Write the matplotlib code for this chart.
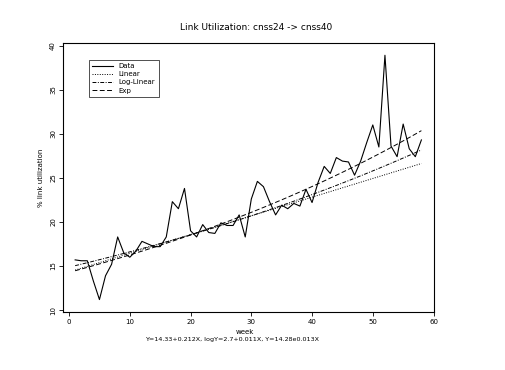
import numpy as np
import matplotlib
matplotlib.use("Agg")
import matplotlib.pyplot as plt

weeks = list(range(1, 59))
utilization = [15.7, 15.6, 15.6, 13.3, 11.2, 13.9, 15.2, 18.3, 16.5, 16.0,
               16.7, 17.8, 17.5, 17.2, 17.2, 18.3, 22.3, 21.5, 23.8, 19.0,
               18.3, 19.7, 18.8, 18.7, 19.9, 19.6, 19.6, 20.8, 18.3, 22.6,
               24.6, 24.0, 22.3, 20.8, 21.9, 21.5, 22.1, 21.8, 23.7, 22.2,
               24.5, 26.3, 25.5, 27.3, 26.9, 26.8, 25.3, 26.9, 29.0, 31.0,
               28.5, 38.9, 28.6, 27.4, 31.1, 28.3, 27.4, 29.3]

# fitted model coefficients (from the subtitle)
lin_a, lin_b = 14.33, 0.212
log_a, log_b = 2.7, 0.011
exp_a, exp_b = 14.28, 0.013

title = "Link Utilization: cnss24 -> cnss40"
subtitle = "Y=14.33+0.212X, logY=2.7+0.011X, Y=14.28e0.013X"
xticks = [0, 10, 20, 30, 40, 50, 60]
yticks = [10, 15, 20, 25, 30, 35, 40]

fig = plt.figure(figsize=(5.06, 3.70), dpi=100)
ax = fig.add_axes([0.1245, 0.157, 0.7335, 0.727])

x = np.array(weeks, dtype=float)
ax.plot(x, utilization, color="black", lw=0.8, label="Data")
ax.plot(x, lin_a + lin_b * x, color="black", lw=0.7, ls=(0, (1, 1.5)), label="Linear")
ax.plot(x, np.exp(log_a + log_b * x), color="black", lw=0.7, ls=(0, (4, 1.5, 1, 1.5)), label="Log-Linear")
ax.plot(x, exp_a * np.exp(exp_b * x), color="black", lw=0.7, ls=(0, (5, 2.5)), label="Exp")

ax.set_xlim(-1, 60.1)
ax.set_ylim(9.8, 40.3)
ax.set_xticks(xticks)
ax.set_yticks(yticks)
ax.tick_params(direction="out", length=3, width=0.6, labelsize=5, pad=2)
for lbl in ax.get_yticklabels():
    lbl.set_rotation(90)
    lbl.set_va("center")
for s in ax.spines.values():
    s.set_linewidth(0.8)

ax.set_ylabel("% link utilization", fontsize=5, labelpad=4)
fig.text(245 / 506, 1 - 332 / 370, "week", fontsize=5, ha="center", va="center")
fig.text(232 / 506, 1 - 339 / 370, subtitle, fontsize=4.6, ha="center", va="center")
fig.text(256 / 506, 1 - 27 / 370, title, fontsize=6.5, ha="center", va="center")

leg = ax.legend(loc="upper left", bbox_to_anchor=(0.06, 0.95), fontsize=5,
                frameon=True, fancybox=False, edgecolor="black",
                handlelength=3, borderpad=0.5, labelspacing=0.3)
leg.get_frame().set_linewidth(0.6)

fig.savefig("out.png", dpi=100, facecolor="white")
